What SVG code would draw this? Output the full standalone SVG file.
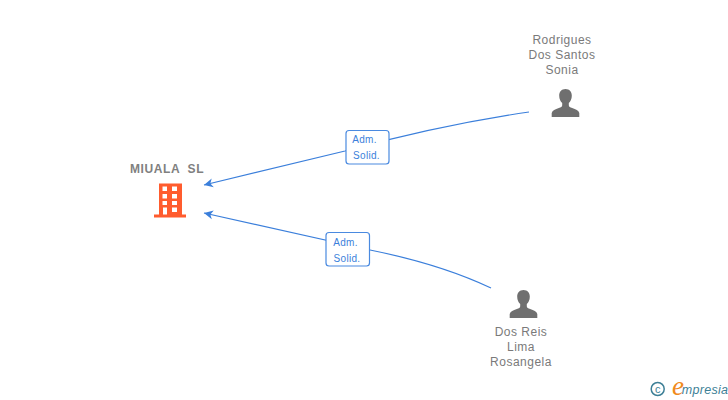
<svg xmlns="http://www.w3.org/2000/svg" width="728" height="400" viewBox="0 0 728 400">
<style>
text{font-family:"Liberation Sans",Arial,sans-serif;text-anchor:middle}
.n{font-size:12px;fill:#7a7a7a;letter-spacing:.5px}
.t{font-size:12px;font-weight:bold;fill:#808080;letter-spacing:.6px;white-space:pre}
.e{fill:none;stroke:#3b7fdb;stroke-width:1.2}
.b{fill:#fff;stroke:#4a8ae0;stroke-width:1.2}
.l{font-size:10px;fill:#3b7fdb;letter-spacing:.3px}
.p{fill:#6f6f6f}
.o{fill:#ff5c2e}
</style>
<defs>
<marker id="a" markerWidth="10" markerHeight="10" refX="9" refY="5" orient="auto" markerUnits="userSpaceOnUse"><path d="M9 5L0 0.500L2.500 5L0 9.500Z" fill="#3b7fdb"/></marker>
<symbol id="person" viewBox="0 0 28 28" overflow="visible"><path class="p" d="M14 0c4 0 6.300 2.800 6.300 6.700 0 3-1.300 5.800-3 7.300v2.300c0 1.400 1.300 2 3.400 2.800 3.500 1.300 6.500 2.500 7.100 5V28H.2v-3.900c.6-2.500 3.600-3.700 7.100-5 2.100-.8 3.400-1.400 3.400-2.800V14c-1.700-1.500-3-4.300-3-7.300C7.700 2.800 10 0 14 0z"/></symbol>
</defs>
<g id="connectors">
<path class="e" marker-end="url(#a)" d="M529 112Q440 125 345 151L204 185"/>
<path class="e" marker-end="url(#a)" d="M491 288Q440 264 370 250L204 213"/>
</g>
<g id="edge-label-1"><rect class="b" x="346" y="130.500" width="43" height="33.500" rx="3"/><text class="l" x="364.500" y="143">Adm.</text><text class="l" x="366.500" y="158.500">Solid.</text></g>
<g id="edge-label-2"><rect class="b" x="326" y="232.500" width="43.500" height="33.500" rx="3"/><text class="l" x="345.500" y="246">Adm.</text><text class="l" x="347" y="261.500">Solid.</text></g>
<g id="node-miuala">
<text class="t" x="167" y="173">MIUALA  SL</text>
<path class="o" fill-rule="evenodd" d="M159 183.500H182V214.500H186V217.500H154V214.500H159ZM162.500 186.500V191H167V186.500ZM172 186.500V191H177V186.500ZM162.500 194V198.500H167V194ZM172 194V198.500H177V194ZM162.500 201V205H167V201ZM172 201V205H177V201ZM163 207.500V214.500H167V207.500ZM172 207.500V212H177V207.500Z"/>
</g>
<g id="node-rodrigues">
<text class="n" x="562" y="44">Rodrigues</text><text class="n" x="562" y="59">Dos Santos</text><text class="n" x="562" y="74">Sonia</text>
<use href="#person" x="551.500" y="89" width="28" height="28"/>
</g>
<g id="node-dos-reis">
<text class="n" x="521" y="336">Dos Reis</text><text class="n" x="521" y="351">Lima</text><text class="n" x="521" y="366">Rosangela</text>
<use href="#person" x="509.500" y="290" width="28" height="28"/>
</g>
<g id="brand">
<circle cx="657.700" cy="389" r="6.500" fill="none" stroke="#3d7f96" stroke-width="1.500"/>
<text x="657.700" y="392.500" font-size="11" fill="#3d7f96">c</text>
<text x="678" y="395" font-size="27" fill="#f08a1c" style="font-family:'Liberation Serif',serif;font-style:italic">e</text>
<text x="705" y="394" font-size="12.500" fill="#3d7f96" style="font-style:italic" letter-spacing=".3">mpresia</text>
</g>
</svg>
